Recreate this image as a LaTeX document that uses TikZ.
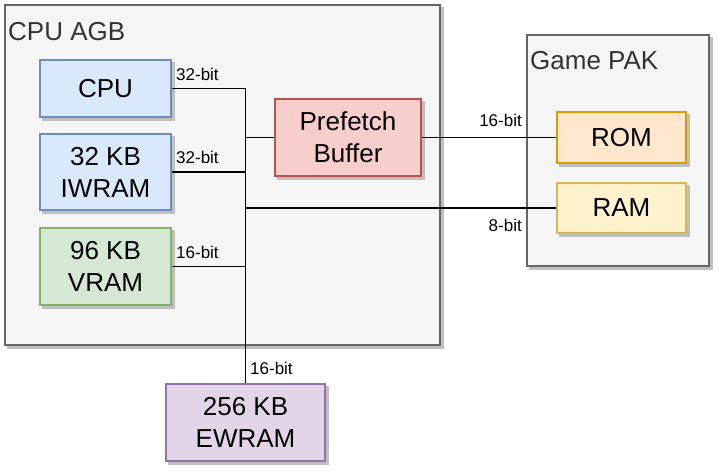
\documentclass[tikz,border=0pt]{standalone}
\usepackage{fontspec}
\setmainfont{Liberation Sans}
\definecolor{contfill}{HTML}{F5F5F5}
\definecolor{contline}{HTML}{666666}
\definecolor{conttext}{HTML}{333333}
\definecolor{bluefill}{HTML}{DAE8FC}
\definecolor{blueline}{HTML}{6C8EBF}
\definecolor{greenfill}{HTML}{D5E8D4}
\definecolor{greenline}{HTML}{82B366}
\definecolor{redfill}{HTML}{F8CECC}
\definecolor{redline}{HTML}{B85450}
\definecolor{orangefill}{HTML}{FFE6CC}
\definecolor{orangeline}{HTML}{D79B00}
\definecolor{yellowfill}{HTML}{FFF2CC}
\definecolor{yellowline}{HTML}{D6B656}
\definecolor{purplefill}{HTML}{E1D5E7}
\definecolor{purpleline}{HTML}{9673A6}
\definecolor{shadowgray}{HTML}{BFBFBF}
\tikzset{
  blockbox/.style 2 args={draw=#2,fill=#1,line width=1.2pt,inner sep=0,align=center,
     font=\fontsize{26}{32}\selectfont},
  shadowfill/.style={fill=shadowgray,draw=shadowgray,line width=1.2pt},
  wire/.style={line width=1.4pt,black},
  buslabel/.style={inner sep=0,font=\fontsize{17}{20}\selectfont},
  title/.style={inner sep=0,anchor=west,text=conttext,font=\fontsize{26}{30}\selectfont},
  contbox/.style={draw=contline,fill=contfill,line width=1.2pt,inner sep=0},
}
\newcommand\shadowednode[5]{%
  \node[#2,shadowfill] (#1s) at (#3+3,#4+3) {};
  \node[#2] (#1) at (#3,#4) {#5};}
\begin{document}
\begin{tikzpicture}[x=1pt,y=-1pt]
\useasboundingbox (0,0) rectangle (719,473);
% containers
\shadowednode{agbbox}{contbox,minimum width=435pt,minimum height=340pt}{222.5}{175}{}
\shadowednode{pakbox}{contbox,minimum width=182pt,minimum height=231pt}{618}{150.5}{}
\node[title] (agb) at (8,32) {CPU AGB};
\node[title] (pak) at (530,61) {Game PAK};
% blocks
\shadowednode{cpu}{blockbox={bluefill}{blueline},minimum width=131pt,minimum height=57pt}{105.5}{88.5}{CPU}
\shadowednode{iwram}{blockbox={bluefill}{blueline},minimum width=131pt,minimum height=76pt}{105.5}{172}{32 KB\\IWRAM}
\shadowednode{vram}{blockbox={greenfill}{greenline},minimum width=131pt,minimum height=77pt}{105.5}{266.5}{96 KB\\VRAM}
\shadowednode{pf}{blockbox={redfill}{redline},minimum width=146pt,minimum height=77pt}{348}{137.5}{Prefetch\\Buffer}
\shadowednode{rom}{blockbox={orangefill}{orangeline},minimum width=129pt,minimum height=51pt}{621.5}{137.5}{ROM}
\shadowednode{ram}{blockbox={yellowfill}{yellowline},minimum width=129pt,minimum height=50pt}{621.5}{208}{RAM}
\shadowednode{ew}{blockbox={purplefill}{purpleline},minimum width=159pt,minimum height=77pt}{245.5}{422.5}{256 KB\\EWRAM}
% wires
\draw[wire] (cpu.east) -| (ew.north);
\draw[wire] (iwram.east) -- (iwram.east -| ew.north);
\draw[wire] (vram.east) -- (vram.east -| ew.north);
\draw[wire] (pf.west) -- (pf.west -| ew.north);
\draw[wire] (pf.east) -- (rom.west);
\draw[wire] (ram.west) -- (ram.west -| ew.north);
% labels
\node[buslabel,anchor=west] (l1) at (176,74) {32-bit};
\node[buslabel,anchor=west] (l2) at (176,157) {32-bit};
\node[buslabel,anchor=west] (l3) at (176,252) {16-bit};
\node[buslabel,anchor=west] (l4) at (250,368) {16-bit};
\node[buslabel,anchor=east] (l5) at (522,120) {16-bit};
\node[buslabel,anchor=east] (l6) at (522,225) {8-bit};
\end{tikzpicture}
\end{document}
